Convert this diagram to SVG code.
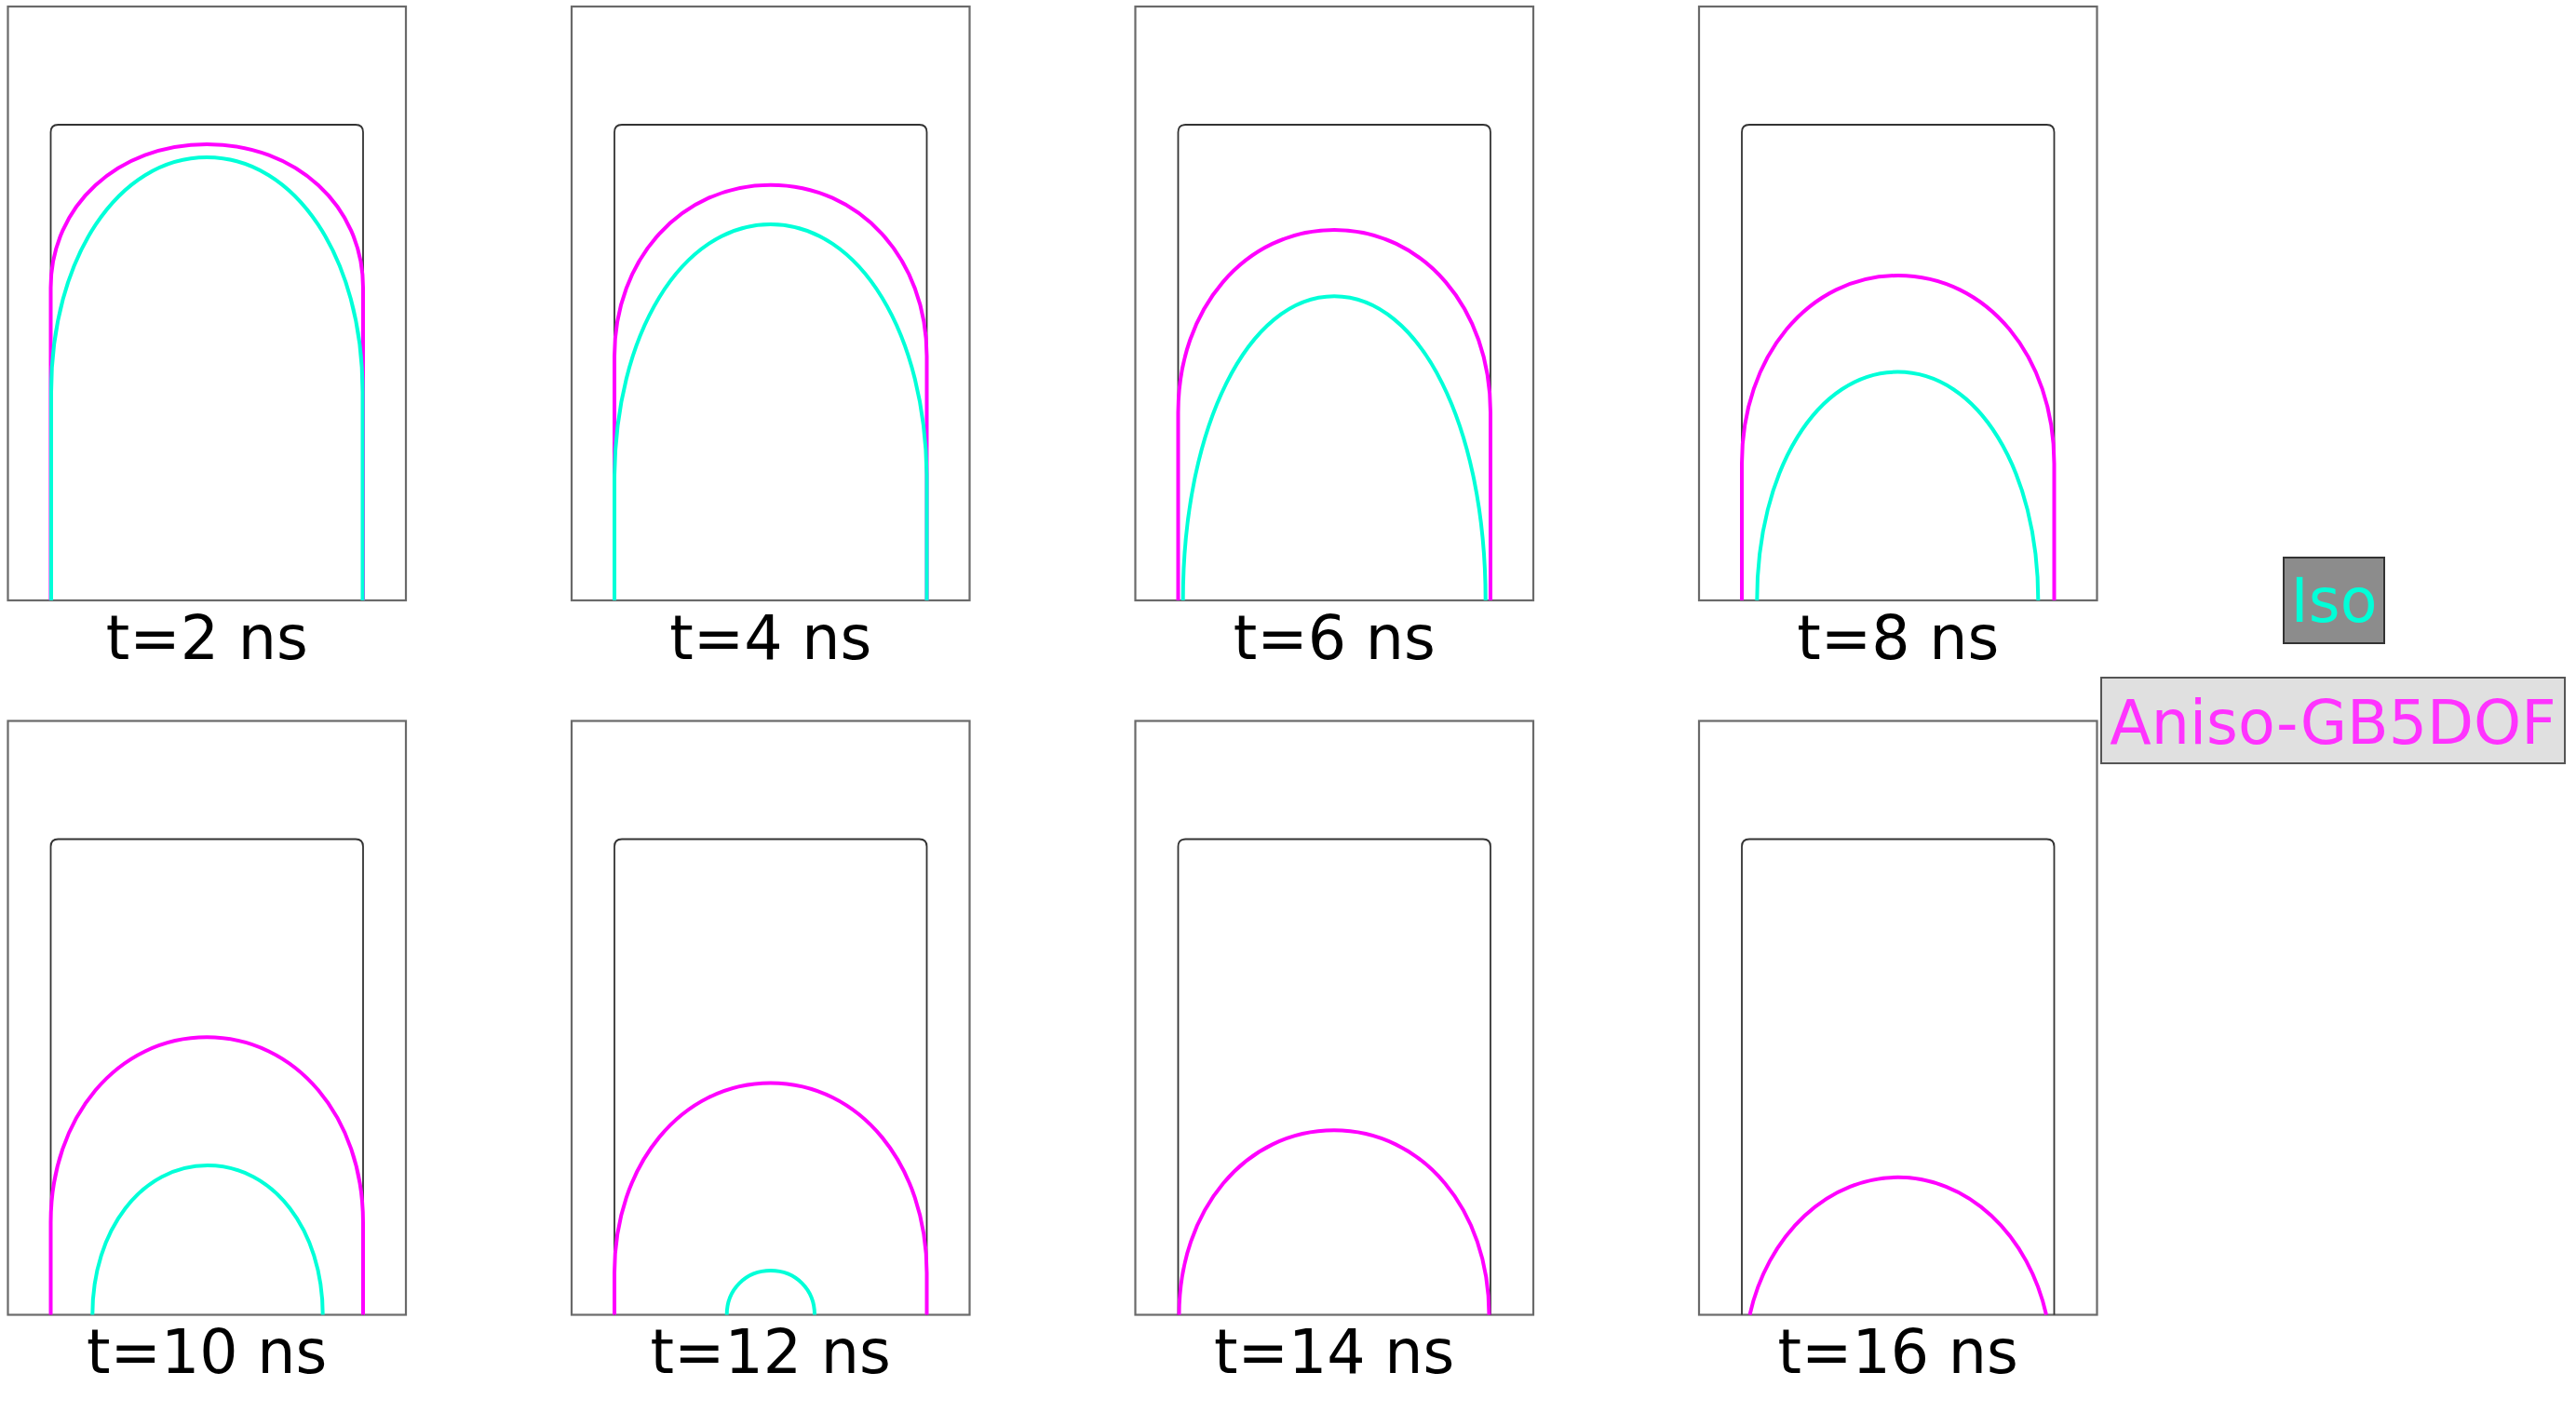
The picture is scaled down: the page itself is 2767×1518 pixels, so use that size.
<svg xmlns="http://www.w3.org/2000/svg" width="2767" height="1518" viewBox="0 0 2767 1518">
<style>
.outer{fill:none;stroke:#6a6a6a;stroke-width:2.2}
.inner{fill:none;stroke:#333;stroke-width:1.8}
.mag{fill:none;stroke:#ff00ff;stroke-width:4}
.cyn{fill:none;stroke:#00ffd8;stroke-width:4}
.lbl{font-family:"DejaVu Sans",sans-serif;font-size:65px;fill:#000;text-anchor:middle}
.leg{font-family:"DejaVu Sans",sans-serif;font-size:65px;text-anchor:middle}
</style>
<defs>
<g id="frame">
<rect class="outer" x="0" y="0" width="427.5" height="638"/>
<path class="inner" d="M46,638 V135 Q46,127 54,127 H373.5 Q381.5,127 381.5,135 V638"/>
</g>
</defs>
<rect width="2767" height="1518" fill="#fff"/>

<g id="panel-t2" transform="translate(8.5,7)">
<use href="#frame"/>
<path class="mag" d="M46,638 V302 C46,214.2 118.15,148 213.75,148 C309.35,148 381.5,214.2 381.5,302 V638"/>
<path class="cyn" d="M46.5,638 V414 C46.5,270.4 118.45,162 213.75,162 C309.05,162 381,270.4 381,414 V638"/>
<text class="lbl" x="213.75" y="700.5">t=2 ns</text>
</g>

<g id="panel-t4" transform="translate(614,7)">
<use href="#frame"/>
<path class="mag" d="M46,638 V375.7 C46,270.8 118.15,191.7 213.75,191.7 C309.35,191.7 381.5,270.8 381.5,375.7 V638"/>
<path class="cyn" d="M46,638 V509 C46,352.25 118.15,234 213.75,234 C309.35,234 381.5,352.25 381.5,509 V638"/>
<text class="lbl" x="213.75" y="700.5">t=4 ns</text>
</g>

<g id="panel-t6" transform="translate(1219.5,7)">
<use href="#frame"/>
<path class="mag" d="M46,638 V436 C46,324.3 118.15,240 213.75,240 C309.35,240 381.5,324.3 381.5,436 V638"/>
<path class="cyn" d="M51.2,638 C51.2,451.8 121.1,311.3 213.7,311.3 C306.3,311.3 376.2,451.8 376.2,638"/>
<text class="lbl" x="213.75" y="700.5">t=6 ns</text>
</g>

<g id="panel-t8" transform="translate(1825,7)">
<use href="#frame"/>
<path class="mag" d="M46,638 V491 C46,375.9 118.15,289 213.75,289 C309.35,289 381.5,375.9 381.5,491 V638"/>
<path class="cyn" d="M62.3,638 C62.3,498.1 127.2,392.6 213.3,392.6 C299.4,392.6 364.3,498.1 364.3,638"/>
<text class="lbl" x="213.75" y="700.5">t=8 ns</text>
</g>

<g id="panel-t10" transform="translate(8.5,774.5)">
<use href="#frame"/>
<path class="mag" d="M46,638 V538.8 C46,425.4 118.15,339.8 213.75,339.8 C309.35,339.8 381.5,425.4 381.5,538.8 V638"/>
<path class="cyn" d="M90.8,638 C90.8,546.5 144,477.5 214.5,477.5 C285,477.5 338.2,546.5 338.2,638"/>
<text class="lbl" x="213.75" y="700.5">t=10 ns</text>
</g>

<g id="panel-t12" transform="translate(614,774.5)">
<use href="#frame"/>
<path class="mag" d="M46,638 V593 C46,476.7 118.15,389 213.75,389 C309.35,389 381.5,476.7 381.5,593 V638"/>
<path class="cyn" d="M166.7,638 C166.7,611 186.95,590.6 213.85,590.6 C240.75,590.6 261,611 261,638"/>
<text class="lbl" x="213.75" y="700.5">t=12 ns</text>
</g>

<g id="panel-t14" transform="translate(1219.5,774.5)">
<use href="#frame"/>
<path class="mag" d="M47,638 C47,525 118.6,439.8 213.5,439.8 C308.4,439.8 380,525 380,638"/>
<text class="lbl" x="213.75" y="700.5">t=14 ns</text>
</g>

<g id="panel-t16" transform="translate(1825,774.5)">
<use href="#frame"/>
<path class="mag" d="M54.5,638 A165,200 0 0 1 373,638"/>
<text class="lbl" x="213.75" y="700.5">t=16 ns</text>
</g>

<g id="legend-iso">
<rect x="2453" y="599" width="108" height="92" fill="#8c8c8c" stroke="#333" stroke-width="2"/>
<text class="leg" x="2507" y="668" fill="#00ffd8">Iso</text>
</g>
<g id="legend-aniso">
<rect x="2257" y="728" width="498" height="92" fill="#e0e0e0" stroke="#555" stroke-width="2"/>
<text class="leg" x="2506" y="799" fill="#ff33ff">Aniso-GB5DOF</text>
</g>
<g id="connectors"/>
</svg>
